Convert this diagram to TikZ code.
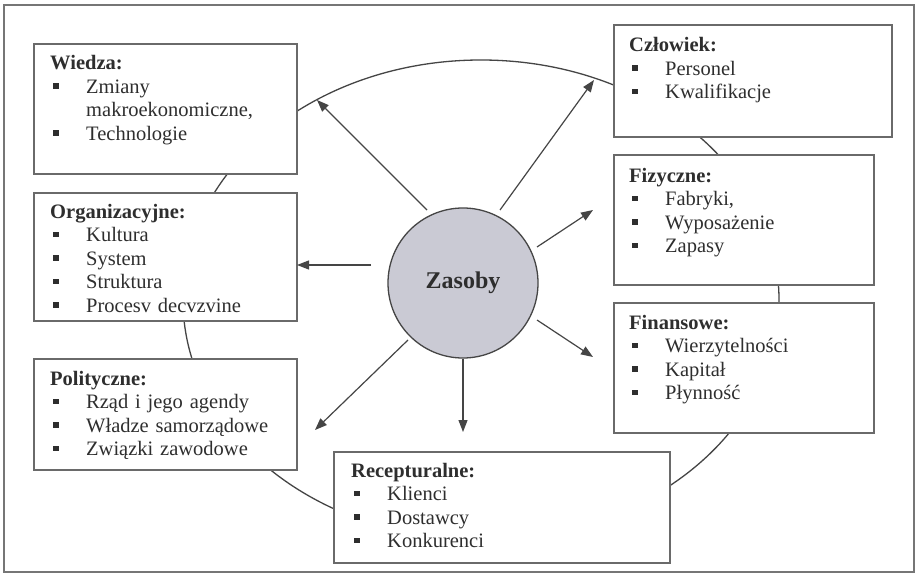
\documentclass[tikz,border=0pt]{standalone}
\usepackage{fontspec}
\setmainfont{Liberation Serif}
\usetikzlibrary{arrows.meta}
\setlength{\parindent}{0pt}

\definecolor{framegray}{HTML}{767676}
\definecolor{boxgray}{HTML}{6A6A6A}
\definecolor{linegray}{HTML}{454545}
\definecolor{textgray}{HTML}{2E2E2E}
\definecolor{discfill}{HTML}{CACAD4}

% one bulleted line: square bullet, text indented by 36pt
\newcommand{\rsitem}[1]{\par\makebox[36pt][l]{\hspace*{3pt}\rule[4.5pt]{5.5pt}{5.5pt}}#1}
\newcommand{\rscont}[1]{\par\hspace*{36pt}#1}

\begin{document}
\begin{tikzpicture}[x=1pt,y=-1pt,
  frame/.style={draw=framegray, line width=2.5pt},
  card/.style={draw=boxgray, line width=1.6pt, fill=white, anchor=north west,
    inner sep=0pt},
  ring/.style={draw=linegray, line width=1.3pt},
  ray/.style={draw=linegray, line width=1.2pt,
    -{Triangle[length=12pt,width=9pt]}},
  label/.style={anchor=base west, text width=250pt, inner sep=0pt, align=left,
    text=textgray, font=\fontsize{20.5}{23.5}\selectfont},
  disc/.style={circle, draw=linegray, line width=1.3pt, fill=discfill,
    minimum size=150pt, inner sep=0pt, text=textgray,
    font=\fontsize{24}{28}\selectfont\bfseries}
]
\useasboundingbox (0,0) rectangle (917,575);
\fill[white] (0,0) rectangle (917,575);

% outer frame
\draw[frame] (4,5) rectangle (914,572);

% ring linking the resource groups
\draw[ring] (481,300) ellipse [x radius=298pt, y radius=240pt];

% resource group boxes
\node[card, minimum width=263pt, minimum height=130pt] (wiedza) at (33,43) {};
\node[card, minimum width=263pt, minimum height=128pt] (organ) at (33,192) {};
\node[card, minimum width=263pt, minimum height=111pt] (polit) at (33,358) {};
\node[card, minimum width=336pt, minimum height=111pt] (recep) at (333,451) {};
\node[card, minimum width=278pt, minimum height=112pt] (czlow) at (613,24) {};
\node[card, minimum width=260pt, minimum height=130pt] (fizyc) at (613,154) {};
\node[card, minimum width=260pt, minimum height=130pt] (finan) at (613,302) {};

% box texts
\node[label] (wiedzaTxt) at (50,70) {\textbf{Wiedza:}\rsitem{Zmiany}\rscont{makroekonomiczne,}\rsitem{Technologie}};
\node[label] (organTxt) at (50,218) {\textbf{Organizacyjne:}\rsitem{Kultura}\rsitem{System}\rsitem{Struktura}\rsitem{Procesv decvzvine}};
\node[label] (politTxt) at (50,385) {\textbf{Polityczne:}\rsitem{Rząd i jego agendy}\rsitem{Władze samorządowe}\rsitem{Związki zawodowe}};
\node[label] (recepTxt) at (351,477) {\textbf{Recepturalne:}\rsitem{Klienci}\rsitem{Dostawcy}\rsitem{Konkurenci}};
\node[label] (czlowTxt) at (629,52) {\textbf{Człowiek:}\rsitem{Personel}\rsitem{Kwalifikacje}};
\node[label] (fizycTxt) at (629,182) {\textbf{Fizyczne:}\rsitem{Fabryki,}\rsitem{Wyposażenie}\rsitem{Zapasy}};
\node[label] (finanTxt) at (629,329) {\textbf{Finansowe:}\rsitem{Wierzytelności}\rsitem{Kapitał}\rsitem{Płynność}};

% central resource disc
\node[disc] (zasoby) at (463,283) {Zasoby};

% arrow end points
\coordinate (s1) at (427,210); \coordinate (t1) at (317,100);
\coordinate (s2) at (500,210); \coordinate (t2) at (594,80);
\coordinate (s3) at (537,247); \coordinate (t3) at (593,210);
\coordinate (s4) at (371,265); \coordinate (t4) at (297,265);
\coordinate (s5) at (537,320); \coordinate (t5) at (593,357);
\coordinate (s6) at (408,340); \coordinate (t6) at (315,430);
\coordinate (t7) at (463,432);

\draw[ray] (s1) -- (t1);
\draw[ray] (s2) -- (t2);
\draw[ray] (s3) -- (t3);
\draw[ray] (s4) -- (t4);
\draw[ray] (s5) -- (t5);
\draw[ray] (s6) -- (t6);
\draw[ray] (zasoby.south) -- (t7);
\end{tikzpicture}
\end{document}
